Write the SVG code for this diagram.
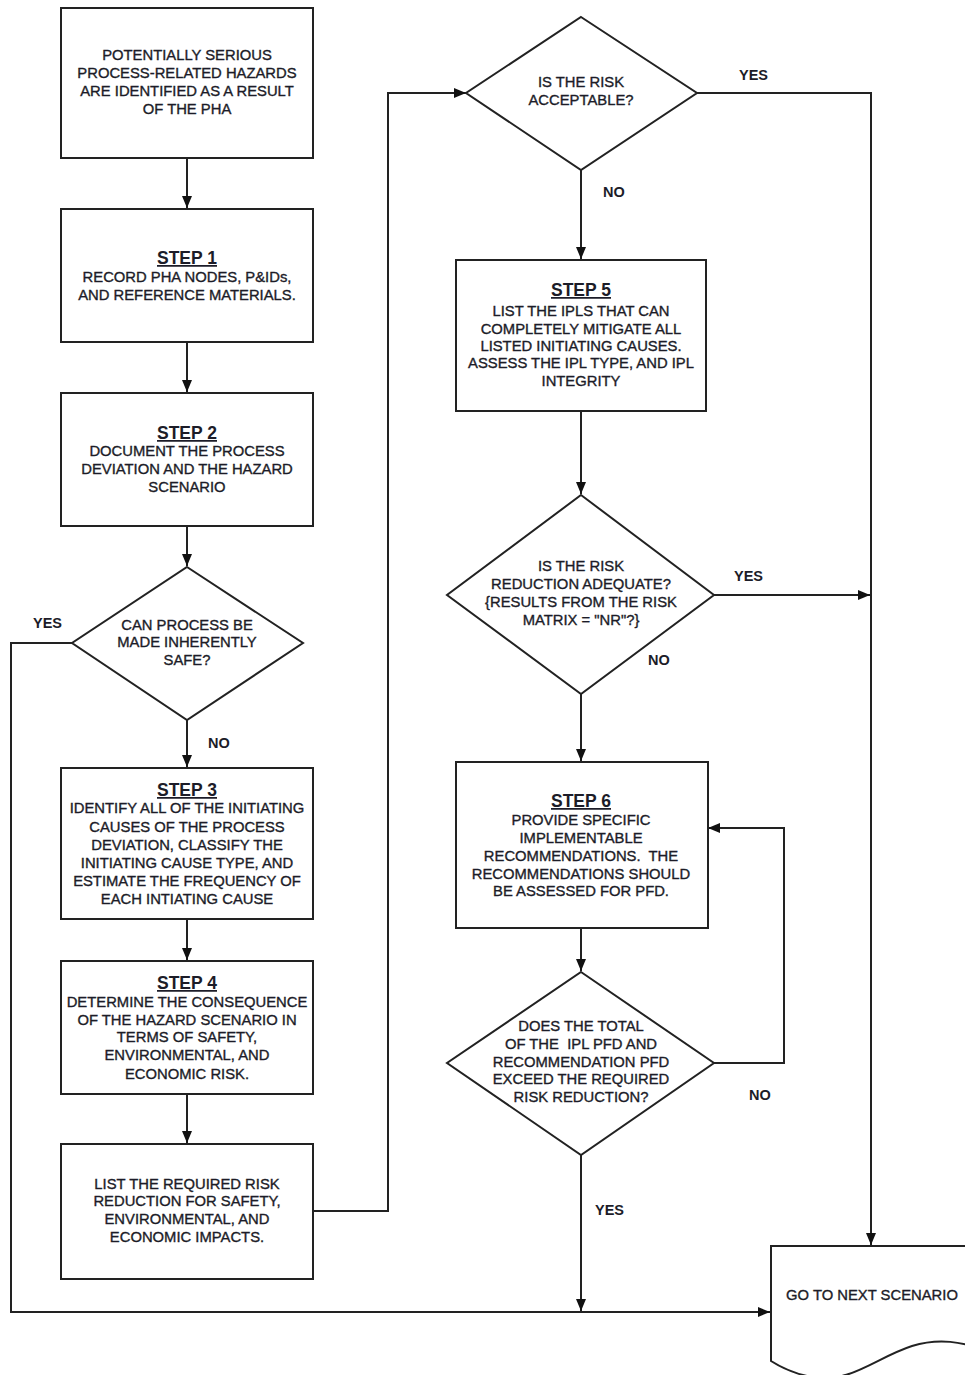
<svg xmlns="http://www.w3.org/2000/svg" width="965" height="1375" viewBox="0 0 965 1375">
  <defs>
    <marker id="arrow" markerUnits="userSpaceOnUse" markerWidth="12" markerHeight="10" refX="12" refY="5" orient="auto">
      <path d="M0,0 L12,5 L0,10 Z" fill="#111"/>
    </marker>
    <style>
      .box { fill: #fff; stroke: #222; stroke-width: 2; }
      .conn { fill: none; stroke: #222; stroke-width: 2; }
      .t { font-family: "Liberation Sans", Arial, sans-serif; font-size: 14.8px; fill: #1c1c28; stroke: #1c1c28; stroke-width: 0.35px; text-anchor: middle; }
      .step { font-family: "Liberation Sans", Arial, sans-serif; font-size: 17.5px; font-weight: bold; fill: #1c1c28; text-anchor: middle; text-decoration: underline; }
      .lbl { font-family: "Liberation Sans", Arial, sans-serif; font-size: 14.5px; font-weight: bold; fill: #1c1c28; text-anchor: start; }
    </style>
  </defs>

  <rect width="965" height="1375" fill="#fff"/>

  <!-- connectors -->
  <g id="connectors">
    <path class="conn" d="M187,158 V208" marker-end="url(#arrow)"/>
    <path class="conn" d="M187,342 V392" marker-end="url(#arrow)"/>
    <path class="conn" d="M187,526 V566" marker-end="url(#arrow)"/>
    <path class="conn" d="M187,720 V767" marker-end="url(#arrow)"/>
    <path class="conn" d="M187,919 V960" marker-end="url(#arrow)"/>
    <path class="conn" d="M187,1094 V1143" marker-end="url(#arrow)"/>
    <path class="conn" d="M72,643 H11 V1312 H770" marker-end="url(#arrow)"/>
    <path class="conn" d="M313,1211 H388 V93 H466" marker-end="url(#arrow)"/>
    <path class="conn" d="M697,93 H871 V1245" marker-end="url(#arrow)"/>
    <path class="conn" d="M581,170 V259" marker-end="url(#arrow)"/>
    <path class="conn" d="M581,411 V494" marker-end="url(#arrow)"/>
    <path class="conn" d="M714,595 H870" marker-end="url(#arrow)"/>
    <path class="conn" d="M581,694 V761" marker-end="url(#arrow)"/>
    <path class="conn" d="M581,928 V971" marker-end="url(#arrow)"/>
    <path class="conn" d="M714,1063 H784 V828 H708" marker-end="url(#arrow)"/>
    <path class="conn" d="M581,1155 V1311" marker-end="url(#arrow)"/>

    <text class="lbl" x="33" y="628">YES</text>
    <text class="lbl" x="208" y="748">NO</text>
    <text class="lbl" x="739" y="80">YES</text>
    <text class="lbl" x="603" y="197">NO</text>
    <text class="lbl" x="734" y="581">YES</text>
    <text class="lbl" x="648" y="665">NO</text>
    <text class="lbl" x="749" y="1100">NO</text>
    <text class="lbl" x="595" y="1215">YES</text>
  </g>

  <!-- left column -->
  <g id="start">
    <rect class="box" x="61" y="8" width="252" height="150"/>
    <text class="t" x="187" y="60">POTENTIALLY SERIOUS</text>
    <text class="t" x="187" y="78">PROCESS-RELATED HAZARDS</text>
    <text class="t" x="187" y="96">ARE IDENTIFIED AS A RESULT</text>
    <text class="t" x="187" y="114">OF THE PHA</text>
  </g>

  <g id="step1">
    <rect class="box" x="61" y="209" width="252" height="133"/>
    <text class="step" x="187" y="264">STEP 1</text>
    <text class="t" x="187" y="282">RECORD PHA NODES, P&amp;IDs,</text>
    <text class="t" x="187" y="300">AND REFERENCE MATERIALS.</text>
  </g>

  <g id="step2">
    <rect class="box" x="61" y="393" width="252" height="133"/>
    <text class="step" x="187" y="439">STEP 2</text>
    <text class="t" x="187" y="456">DOCUMENT THE PROCESS</text>
    <text class="t" x="187" y="474">DEVIATION AND THE HAZARD</text>
    <text class="t" x="187" y="492">SCENARIO</text>
  </g>

  <g id="inherently-safe">
    <polygon class="box" points="187,567 303,643 187,720 72,643"/>
    <text class="t" x="187" y="630">CAN PROCESS BE</text>
    <text class="t" x="187" y="647">MADE INHERENTLY</text>
    <text class="t" x="187" y="665">SAFE?</text>
  </g>

  <g id="step3">
    <rect class="box" x="61" y="768" width="252" height="151"/>
    <text class="step" x="187" y="796">STEP 3</text>
    <text class="t" x="187" y="813">IDENTIFY ALL OF THE INITIATING</text>
    <text class="t" x="187" y="832">CAUSES OF THE PROCESS</text>
    <text class="t" x="187" y="850">DEVIATION, CLASSIFY THE</text>
    <text class="t" x="187" y="868">INITIATING CAUSE TYPE, AND</text>
    <text class="t" x="187" y="886">ESTIMATE THE FREQUENCY OF</text>
    <text class="t" x="187" y="904">EACH INTIATING CAUSE</text>
  </g>

  <g id="step4">
    <rect class="box" x="61" y="961" width="252" height="133"/>
    <text class="step" x="187" y="989">STEP 4</text>
    <text class="t" x="187" y="1007">DETERMINE THE CONSEQUENCE</text>
    <text class="t" x="187" y="1025">OF THE HAZARD SCENARIO IN</text>
    <text class="t" x="187" y="1042">TERMS OF SAFETY,</text>
    <text class="t" x="187" y="1060">ENVIRONMENTAL, AND</text>
    <text class="t" x="187" y="1079">ECONOMIC RISK.</text>
  </g>

  <g id="risk-reduction">
    <rect class="box" x="61" y="1144" width="252" height="135"/>
    <text class="t" x="187" y="1189">LIST THE REQUIRED RISK</text>
    <text class="t" x="187" y="1206">REDUCTION FOR SAFETY,</text>
    <text class="t" x="187" y="1224">ENVIRONMENTAL, AND</text>
    <text class="t" x="187" y="1242">ECONOMIC IMPACTS.</text>
  </g>

  <!-- right column -->
  <g id="risk-acceptable">
    <polygon class="box" points="581,17 697,93 581,170 466,93"/>
    <text class="t" x="581" y="87">IS THE RISK</text>
    <text class="t" x="581" y="105">ACCEPTABLE?</text>
  </g>

  <g id="step5">
    <rect class="box" x="456" y="260" width="250" height="151"/>
    <text class="step" x="581" y="296">STEP 5</text>
    <text class="t" x="581" y="316">LIST THE IPLS THAT CAN</text>
    <text class="t" x="581" y="334">COMPLETELY MITIGATE ALL</text>
    <text class="t" x="581" y="351">LISTED INITIATING CAUSES.</text>
    <text class="t" x="581" y="368">ASSESS THE IPL TYPE, AND IPL</text>
    <text class="t" x="581" y="386">INTEGRITY</text>
  </g>

  <g id="reduction-adequate">
    <polygon class="box" points="581,495 714,595 581,694 447,595"/>
    <text class="t" x="581" y="571">IS THE RISK</text>
    <text class="t" x="581" y="589">REDUCTION ADEQUATE?</text>
    <text class="t" x="581" y="607">{RESULTS FROM THE RISK</text>
    <text class="t" x="581" y="625">MATRIX = "NR"?}</text>
  </g>

  <g id="step6">
    <rect class="box" x="456" y="762" width="252" height="166"/>
    <text class="step" x="581" y="807">STEP 6</text>
    <text class="t" x="581" y="825">PROVIDE SPECIFIC</text>
    <text class="t" x="581" y="843">IMPLEMENTABLE</text>
    <text class="t" x="581" y="861">RECOMMENDATIONS.&#160; THE</text>
    <text class="t" x="581" y="879">RECOMMENDATIONS SHOULD</text>
    <text class="t" x="581" y="896">BE ASSESSED FOR PFD.</text>
  </g>

  <g id="total-pfd">
    <polygon class="box" points="581,972 714,1063 581,1155 447,1063"/>
    <text class="t" x="581" y="1031">DOES THE TOTAL</text>
    <text class="t" x="581" y="1049">OF THE&#160; IPL PFD AND</text>
    <text class="t" x="581" y="1067">RECOMMENDATION PFD</text>
    <text class="t" x="581" y="1084">EXCEED THE REQUIRED</text>
    <text class="t" x="581" y="1102">RISK REDUCTION?</text>
  </g>

  <g id="next-scenario">
    <path class="box" d="M771,1246 H990 V1352 C962,1341 938,1338 912,1346 C875,1358 850,1384 812,1377 C795,1374 782,1368 771,1361 Z"/>
    <text class="t" x="872" y="1300">GO TO NEXT SCENARIO</text>
  </g>
</svg>
